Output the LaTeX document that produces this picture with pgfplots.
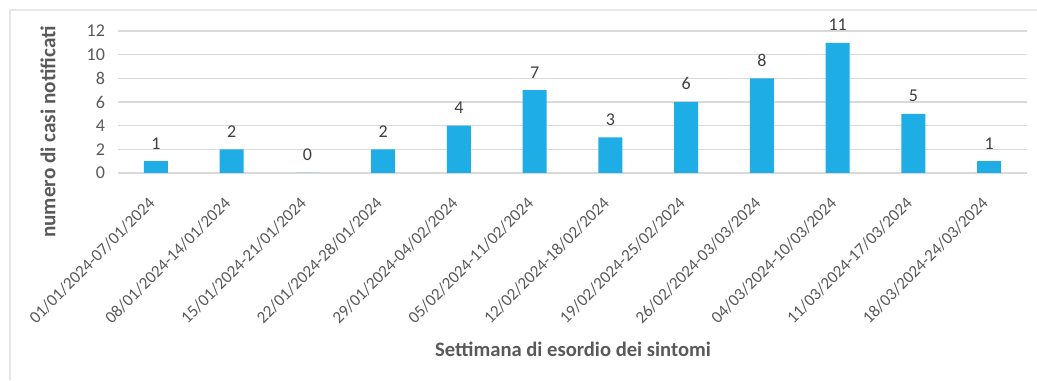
\documentclass[border=0pt]{standalone}
\usepackage{pgfplots}
\pgfplotsset{compat=1.18}
\usepackage{fontspec}
\setmainfont{Carlito}
\definecolor{barblue}{HTML}{1EADE4}
\definecolor{gridgray}{HTML}{D9D9D9}
\definecolor{txtgray}{HTML}{595959}
\definecolor{lblgray}{HTML}{404040}
\definecolor{framegray}{HTML}{E6E6E6}
\begin{document}
\begin{tikzpicture}
\path[use as bounding box] (0pt,0pt) rectangle (518.5pt,190pt);
\draw[framegray, line width=0.8pt] (5pt,0pt) -- (5pt,185pt) -- (518.5pt,185pt);
\begin{axis}[
  at={(59pt,103.5pt)}, anchor=south west,
  scale only axis,
  width=454.5pt, height=71pt,
  xmin=-0.5, xmax=11.5,
  ymin=0, ymax=12,
  ytick={0,2,...,12},
  xtick={0,...,11},
  xticklabels={01/01/2024-07/01/2024,08/01/2024-14/01/2024,15/01/2024-21/01/2024,22/01/2024-28/01/2024,29/01/2024-04/02/2024,05/02/2024-11/02/2024,12/02/2024-18/02/2024,19/02/2024-25/02/2024,26/02/2024-03/03/2024,04/03/2024-10/03/2024,11/03/2024-17/03/2024,18/03/2024-24/03/2024},
  x tick label style={rotate=45, anchor=north east, font=\fontsize{8.5}{10}\selectfont, text=txtgray, inner sep=1pt, xshift=-10pt, yshift=-4pt},
  y tick label style={font=\fontsize{9}{10}\selectfont, text=txtgray, xshift=-3pt},
  /pgf/number format/assume math mode=true,
  axis line style={draw=none},
  ymajorgrids,
  grid style={gridgray, line width=0.6pt},
  major tick length=0pt,
  ytick style={draw=none}, xtick style={draw=none},
  clip=false,
]
\addplot[ybar, bar width=12pt, fill=barblue, draw=none,
  nodes near coords,
  every node near coord/.append style={font=\fontsize{9}{10}\selectfont, text=lblgray, yshift=2.5pt}]
  coordinates {(0,1) (1,2) (2,0) (3,2) (4,4) (5,7) (6,3) (7,6) (8,8) (9,11) (10,5) (11,1)};
\end{axis}
\node[rotate=90, font=\bfseries\fontsize{10.6}{12}\selectfont, text=txtgray] at (24pt,124pt) {numero di casi notificati};
\node[font=\bfseries\fontsize{10.3}{12}\selectfont, text=txtgray] at (286.5pt,15.5pt) {Settimana di esordio dei sintomi};
\end{tikzpicture}
\end{document}
